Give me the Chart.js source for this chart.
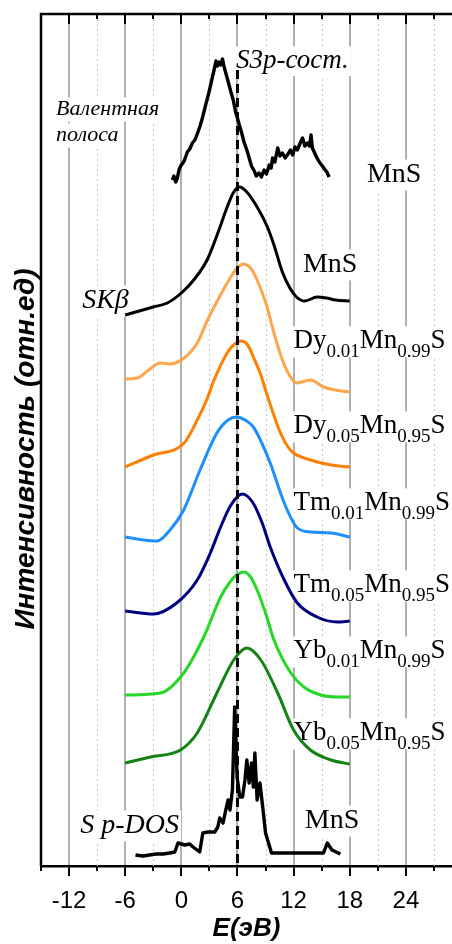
<!DOCTYPE html>
<html>
<head>
<meta charset="utf-8">
<script src="https://cdn.jsdelivr.net/npm/chart.js@4.4.1/dist/chart.umd.min.js"></script>
<style>
  html, body { margin: 0; padding: 0; background: #fff; overflow: hidden; }
  canvas { display: block; width: 452px; height: 944px; }
</style>
</head>
<body>
<canvas id="spectra" width="452" height="944"></canvas>
<script>
// energy axis labels (eV)
const tickLabels = [-12, -6, 0, 6, 12, 18, 24];
const energyMin = -15;
const energyMax = 28.93;
const s3pEnergy = 6;

// valence band of MnS (XPS)
const valenceX = [-0.96, -0.8, -0.6, -0.43, -0.25, -0.07, 0.3, 0.64, 0.9, 1.18, 1.45, 1.7, 2.0, 2.25, 2.6, 2.96, 3.3, 3.5, 3.7, 3.85, 4.0, 4.2, 4.4, 4.6, 4.9, 5.1, 5.3, 5.55, 5.8, 6.0, 6.2, 6.45, 6.7, 7.0, 7.25, 7.5, 7.8, 8.0, 8.3, 8.55, 8.85, 9.1, 9.4, 9.6, 9.75, 10.0, 10.3, 10.55, 10.8, 11.1, 11.4, 11.65, 11.9, 12.15, 12.4, 12.7, 12.96, 13.2, 13.5, 13.7, 13.86, 14.0, 14.2, 14.5, 14.75, 15.0, 15.3, 15.55, 15.8];
const valenceY = [68.6, 69.0, 68.4, 68.8, 69.6, 70.0, 70.5, 71.4, 71.7, 72.3, 72.6, 73.2, 74.0, 74.8, 76.1, 77.4, 78.8, 79.6, 80.5, 80.0, 80.4, 80.1, 80.7, 79.8, 78.8, 78.1, 77.4, 76.6, 75.4, 74.8, 74.1, 73.3, 72.4, 71.6, 70.8, 70.0, 69.5, 69.0, 69.3, 68.9, 69.6, 69.2, 70.1, 69.8, 70.8, 70.4, 71.8, 71.0, 71.3, 70.8, 71.2, 71.6, 71.1, 71.9, 71.6, 72.3, 72.8, 72.0, 72.3, 72.0, 73.1, 71.8, 71.4, 70.8, 70.4, 70.1, 69.7, 69.4, 68.9];

// S K-beta emission bands
const mnsKbX = [-6, -4.5, -3, -1.5, 0, 1.5, 2.75, 3.9, 4.9, 5.6, 6.2, 6.9, 8.1, 9.2, 9.9, 10.8, 11.6, 12.3, 13.2, 14.5, 15.5, 16.5, 18];
const mnsKbY = [55.1, 55.5, 55.9, 56.3, 57.3, 58.8, 60.6, 63.3, 65.9, 67.4, 67.9, 67.5, 65.9, 63.9, 62.1, 59.4, 57.8, 56.9, 56.5, 56.9, 56.8, 56.6, 56.5];

const dy01X = [-6, -4.7, -3.5, -2.25, -1.2, 0.3, 1.7, 2.8, 3.9, 4.9, 5.8, 6.6, 7.4, 8.1, 9.1, 9.9, 10.8, 11.6, 12.3, 13.8, 15.2, 16.5, 18];
const dy01Y = [48.7, 48.8, 49.6, 50.3, 50.2, 50.8, 52.3, 54.6, 56.6, 58.3, 59.6, 60.2, 59.8, 58.6, 56.1, 53.3, 50.6, 49.0, 48.3, 48.6, 47.9, 47.6, 47.4];

const dy05X = [-6, -3, 0.3, 1.7, 2.7, 3.5, 4.9, 5.7, 6.4, 7.1, 7.7, 8.5, 9.1, 10.6, 11.4, 12, 13.8, 16, 18];
const dy05Y = [39.9, 41.1, 42.3, 44.6, 46.6, 48.6, 51.3, 52.2, 52.5, 52.1, 50.9, 49.1, 47.3, 43.3, 41.9, 41.3, 40.6, 40.1, 39.9];

const tm01X = [-6, -4, -2.6, -1.2, 0.25, 2.0, 3.8, 5.0, 5.9, 6.8, 7.7, 8.6, 9.5, 11, 12.4, 13.8, 16, 18];
const tm01Y = [32.9, 32.6, 32.5, 33.6, 35.6, 39.6, 43.3, 44.6, 44.9, 44.6, 43.9, 42.3, 40.3, 36.3, 33.8, 33.4, 33.3, 32.9];

const tm05X = [-6, -3, -0.5, 1.7, 3.1, 4.2, 5.3, 6.5, 7.6, 8.6, 9.5, 11, 12.4, 14.5, 16.7, 18];
const tm05Y = [25.5, 25.2, 26.3, 28.6, 31.3, 33.9, 36.1, 37.2, 36.4, 34.4, 31.9, 28.6, 26.3, 24.9, 24.4, 24.5];

const yb01X = [-6, -2.25, 0.25, 2.4, 4.2, 5.2, 5.9, 6.7, 7.4, 8.1, 9.0, 9.9, 11.7, 13.1, 14.9, 16.7, 18];
const yb01Y = [17.1, 17.3, 19.3, 22.9, 26.9, 28.4, 29.1, 29.4, 28.9, 27.6, 25.3, 22.6, 19.3, 17.9, 17.1, 16.9, 16.9];

const yb05X = [-6, -3.3, -0.1, 1.7, 3.8, 5.6, 7.0, 8.5, 10.3, 12, 13.8, 16, 18];
const yb05Y = [10.3, 10.9, 11.6, 13.3, 17.3, 20.6, 21.8, 20.6, 17.3, 13.6, 11.6, 10.6, 10.2];

// calculated S p-DOS of MnS
const dosX = [-4.9, -4.1, -3.4, -2.7, -1.96, -1.25, -0.7, -0.36, 0.36, 0.9, 1.25, 1.96, 2.3, 2.86, 3.57, 3.9, 4.1, 4.46, 4.75, 5.0, 5.2, 5.46, 5.7, 5.96, 6.25, 6.54, 6.8, 7.0, 7.25, 7.5, 7.7, 7.86, 8.1, 8.4, 8.7, 9.0, 9.64, 11.25, 15.2, 15.6, 16.1, 17.0];
const dosY = [1.1, 1.0, 1.1, 1.2, 1.2, 1.3, 1.4, 2.3, 2.1, 2.2, 1.9, 1.4, 3.3, 3.4, 3.4, 3.9, 4.8, 4.3, 5.6, 6.6, 5.6, 7.6, 15.9, 8.9, 6.9, 6.9, 8.6, 10.6, 8.3, 10.3, 7.9, 11.3, 6.6, 8.3, 5.9, 3.3, 1.3, 1.3, 1.3, 2.3, 1.6, 1.2];

// sample compositions, top to bottom
const dopants = ["Dy", "Dy", "Tm", "Tm", "Yb", "Yb"];
const dopantFractions = ["0.01", "0.05", "0.01", "0.05", "0.01", "0.05"];
const mnFractions = ["0.99", "0.95", "0.99", "0.95", "0.99", "0.95"];
const sampleLabelY = [51.8, 43.3, 35.6, 27.4, 20.8, 12.6];

const sansFont = '"Liberation Sans", Arial, sans-serif';
const serifFont = '"Liberation Serif", "Times New Roman", serif';

function points(xs, ys) {
  return xs.map((x, i) => ({ x: x, y: ys[i] }));
}

function curve(label, xs, ys, color, smooth) {
  return {
    label: label,
    data: points(xs, ys),
    borderColor: color,
    borderWidth: smooth ? 3 : 3.4,
    pointRadius: 0,
    fill: false,
    borderJoinStyle: "round",
    cubicInterpolationMode: smooth ? "monotone" : "default",
    tension: 0,
  };
}

// plain text labels in data coordinates
const textLabels = [
  { text: "S3p-сост.", x: 5.84, y: 79.8, size: 27, italic: true },
  { text: "Валентная", x: -13.4, y: 75.1, size: 22, italic: true },
  { text: "полоса", x: -13.4, y: 72.5, size: 22, italic: true },
  { text: "MnS", x: 19.84, y: 68.4, size: 28, italic: false },
  { text: "MnS", x: 13.0, y: 59.4, size: 28, italic: false },
  { text: "SKβ", x: -10.6, y: 55.8, size: 28, italic: true },
  { text: "MnS", x: 13.2, y: 3.8, size: 28, italic: false },
  { text: "S p-DOS", x: -10.8, y: 3.3, size: 28, italic: true },
];

// draws text parts, subscripts are smaller and lowered
function drawParts(ctx, parts, x, y, size, subSize) {
  let w = 0;
  parts.forEach((p) => {
    ctx.font = (p.sub ? subSize : size) + "px " + serifFont;
    w += ctx.measureText(p.t).width;
  });
  ctx.fillStyle = "#fff";
  ctx.fillRect(x - 2, y - size * 0.8, w + 4, size * 1.15);
  ctx.fillStyle = "#000";
  let cx = x;
  parts.forEach((p) => {
    ctx.font = (p.sub ? subSize : size) + "px " + serifFont;
    ctx.fillText(p.t, cx, p.sub ? y + 9 : y);
    cx += ctx.measureText(p.t).width;
  });
}

const decorPlugin = {
  id: "decor",
  beforeDatasetsDraw(chart) {
    const ctx = chart.ctx;
    const area = chart.chartArea;
    const xs = chart.scales.x;
    const ys = chart.scales.y;
    ctx.save();

    // dotted minor grid
    ctx.strokeStyle = "#c4c4c4";
    ctx.lineWidth = 1;
    ctx.setLineDash([2, 3]);
    for (let v = energyMin; v <= energyMax; v += 3) {
      if (v % 6 === 0) continue;
      const px = Math.round(xs.getPixelForValue(v)) + 0.5;
      ctx.beginPath();
      ctx.moveTo(px, area.top);
      ctx.lineTo(px, area.bottom);
      ctx.stroke();
    }
    ctx.setLineDash([]);

    // text labels
    ctx.textBaseline = "alphabetic";
    ctx.textAlign = "left";
    textLabels.forEach((l) => {
      const px = xs.getPixelForValue(l.x);
      const py = ys.getPixelForValue(l.y);
      ctx.font = (l.italic ? "italic " : "") + l.size + "px " + serifFont;
      const w = ctx.measureText(l.text).width;
      ctx.fillStyle = "#fff";
      ctx.fillRect(px - 2, py - l.size * 0.8, w + 4, l.size * 1.1);
      ctx.fillStyle = "#000";
      ctx.fillText(l.text, px, py);
    });

    dopants.forEach((d, i) => {
      const parts = [
        { t: d },
        { t: dopantFractions[i], sub: true },
        { t: "Mn" },
        { t: mnFractions[i], sub: true },
        { t: "S" },
      ];
      drawParts(ctx, parts, xs.getPixelForValue(12.0), ys.getPixelForValue(sampleLabelY[i]), 27, 19);
    });
    ctx.restore();
  },
  afterDatasetsDraw(chart) {
    const ctx = chart.ctx;
    const area = chart.chartArea;
    const xs = chart.scales.x;
    const ys = chart.scales.y;
    ctx.save();

    // S3p position marker
    const dx = xs.getPixelForValue(s3pEnergy);
    ctx.strokeStyle = "#000";
    ctx.lineWidth = 3;
    ctx.setLineDash([9, 5]);
    ctx.beginPath();
    ctx.moveTo(dx, ys.getPixelForValue(79.6));
    ctx.lineTo(dx, area.bottom);
    ctx.stroke();
    ctx.setLineDash([]);

    // frame top and left
    ctx.lineWidth = 2.5;
    ctx.beginPath();
    ctx.moveTo(area.left, area.bottom);
    ctx.lineTo(area.left, area.top);
    ctx.lineTo(area.right + 2, area.top);
    ctx.stroke();

    // ticks on top (inward) and minor ticks at the bottom
    ctx.lineWidth = 2;
    for (let v = energyMin; v <= energyMax; v += 3) {
      const px = Math.round(xs.getPixelForValue(v));
      const major = v % 6 === 0;
      ctx.beginPath();
      ctx.moveTo(px, area.top);
      ctx.lineTo(px, area.top + (major ? 10 : 5));
      ctx.stroke();
      if (!major) {
        ctx.beginPath();
        ctx.moveTo(px, area.bottom);
        ctx.lineTo(px, area.bottom + 5);
        ctx.stroke();
      }
    }

    // y axis title
    ctx.translate(34, 449);
    ctx.rotate(-Math.PI / 2);
    ctx.font = "italic bold 28px " + sansFont;
    ctx.textAlign = "center";
    ctx.textBaseline = "alphabetic";
    ctx.fillStyle = "#000";
    ctx.fillText("Интенсивность (отн.ед)", 0, 0);
    ctx.restore();
  },
};

new Chart(document.getElementById("spectra"), {
  type: "line",
  data: {
    datasets: [
      curve("MnS valence band", valenceX, valenceY, "#000000", false),
      curve("MnS", mnsKbX, mnsKbY, "#000000", true),
      curve("Dy0.01Mn0.99S", dy01X, dy01Y, "#ffa64d", true),
      curve("Dy0.05Mn0.95S", dy05X, dy05Y, "#ff7f00", true),
      curve("Tm0.01Mn0.99S", tm01X, tm01Y, "#1e8fff", true),
      curve("Tm0.05Mn0.95S", tm05X, tm05Y, "#000080", true),
      curve("Yb0.01Mn0.99S", yb01X, yb01Y, "#27d627", true),
      curve("Yb0.05Mn0.95S", yb05X, yb05Y, "#128212", true),
      curve("S p-DOS", dosX, dosY, "#000000", false),
    ],
  },
  options: {
    responsive: false,
    animation: false,
    devicePixelRatio: 1,
    layout: { padding: { top: 14, left: 41, right: 0, bottom: 0 } },
    plugins: {
      legend: { display: false },
      tooltip: { enabled: false },
    },
    scales: {
      x: {
        type: "linear",
        min: energyMin,
        max: energyMax,
        afterFit: (scale) => {
          // fixed axis height, no extra side padding for edge labels
          scale.height = 78;
          scale.paddingLeft = 0;
          scale.paddingRight = 0;
        },
        ticks: {
          stepSize: 3,
          autoSkip: false,
          maxRotation: 0,
          padding: 11,
          color: "#000",
          font: { family: sansFont, size: 24 },
          callback: (value) => (tickLabels.includes(value) ? String(value) : ""),
        },
        grid: {
          drawOnChartArea: true,
          color: (ctx) => (ctx.tick && ctx.tick.value % 6 === 0 ? "#b0b0b0" : "rgba(0,0,0,0)"),
          lineWidth: 2,
          tickLength: 10,
          tickWidth: 2,
          tickColor: (ctx) => (ctx.tick && ctx.tick.value % 6 === 0 ? "#000" : "rgba(0,0,0,0)"),
        },
        border: { display: true, color: "#000", width: 2.5 },
        title: {
          display: true,
          text: "E(эВ)",
          color: "#000",
          padding: { top: 0, bottom: 0 },
          font: { family: sansFont, size: 26, style: "italic", weight: "bold" },
        },
      },
      y: {
        display: false,
        min: 0,
        max: 85.2,
      },
    },
  },
  plugins: [decorPlugin],
});
</script>
</body>
</html>
